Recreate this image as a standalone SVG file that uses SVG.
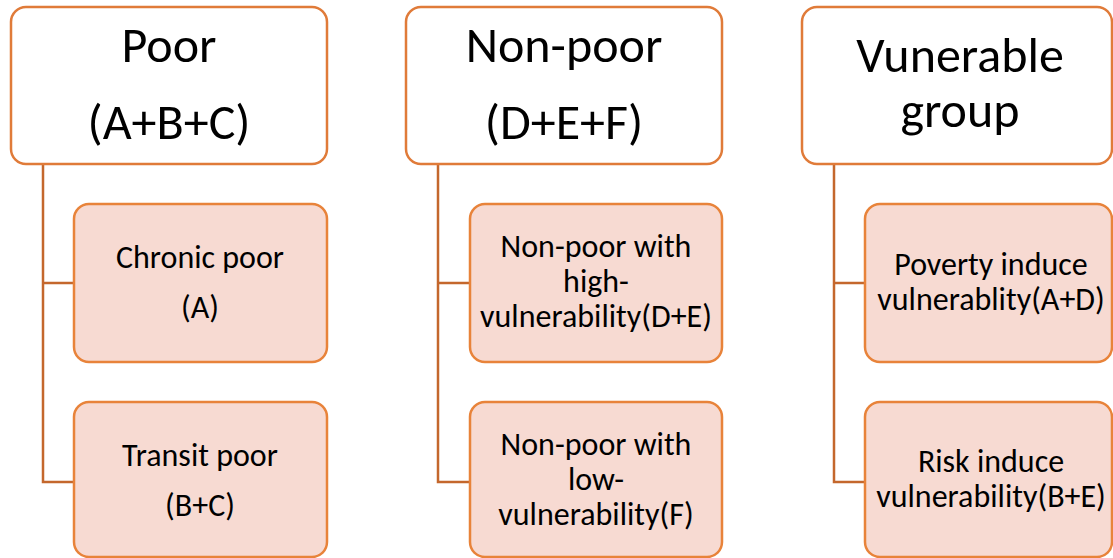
<svg xmlns="http://www.w3.org/2000/svg" width="1113" height="558" viewBox="0 0 1113 558">
<style>
.top{fill:#ffffff;stroke:#E07B39;stroke-width:2.5}
.child{fill:#F7DAD2;stroke:#E8833A;stroke-width:2.5}
.conn{fill:none;stroke:#C4672C;stroke-width:2.5}
text{font-family:Carlito,"Open Sans",sans-serif;fill:#000;text-anchor:middle}
.t1{font-size:50px}
.t2{font-size:32px}
</style>
<rect width="1113" height="558" fill="#ffffff"/>
<g id="connectors">
<path class="conn" d="M43,164 V482 H74 M43,283 H74"/>
<path class="conn" d="M438,164 V482 H470 M438,283 H470"/>
<path class="conn" d="M834,164 V482 H865 M834,283 H865"/>
</g>
<g id="poor">
<rect class="top" x="11" y="7" width="316" height="157" rx="15"/>
<text class="t1" x="169" y="62">Poor</text>
<text class="t1" x="169" y="139">(A+B+C)</text>
</g>
<g id="nonpoor">
<rect class="top" x="406" y="7" width="316" height="157" rx="15"/>
<text class="t1" x="564" y="62">Non-poor</text>
<text class="t1" x="564" y="139">(D+E+F)</text>
</g>
<g id="vulnerable">
<rect class="top" x="802" y="7" width="310" height="157" rx="15"/>
<text class="t1" x="960" y="72">Vunerable</text>
<text class="t1" x="960" y="127">group</text>
</g>
<g id="chronic">
<rect class="child" x="74" y="204" width="253" height="158" rx="15"/>
<text class="t2" x="200" y="268">Chronic poor</text>
<text class="t2" x="200" y="318">(A)</text>
</g>
<g id="transit">
<rect class="child" x="74" y="402" width="253" height="155" rx="15"/>
<text class="t2" x="200" y="466">Transit poor</text>
<text class="t2" x="200" y="516">(B+C)</text>
</g>
<g id="highvul">
<rect class="child" x="470" y="204" width="252" height="158" rx="15"/>
<text class="t2" x="596" y="257">Non-poor with</text>
<text class="t2" x="596" y="292">high-</text>
<text class="t2" x="596" y="327">vulnerability(D+E)</text>
</g>
<g id="lowvul">
<rect class="child" x="470" y="402" width="252" height="155" rx="15"/>
<text class="t2" x="596" y="455">Non-poor with</text>
<text class="t2" x="596" y="490">low-</text>
<text class="t2" x="596" y="525">vulnerability(F)</text>
</g>
<g id="poverty">
<rect class="child" x="865" y="204" width="247" height="158" rx="15"/>
<text class="t2" x="991" y="275">Poverty induce</text>
<text class="t2" x="991" y="310">vulnerablity(A+D)</text>
</g>
<g id="risk">
<rect class="child" x="865" y="402" width="247" height="155" rx="15"/>
<text class="t2" x="991" y="472">Risk induce</text>
<text class="t2" x="991" y="507">vulnerability(B+E)</text>
</g>
</svg>
